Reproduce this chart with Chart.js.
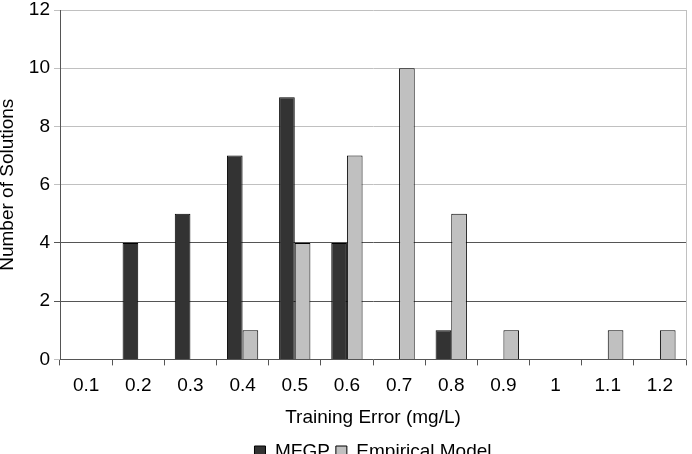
<!DOCTYPE html>
<html>
<head>
<meta charset="utf-8">
<script src="https://cdn.jsdelivr.net/npm/chart.js@4"></script>
<style>
  html, body { margin: 0; padding: 0; background: #fff; overflow: hidden; }
  #wrap { width: 692px; height: 471px; position: relative; }
</style>
</head>
<body>
<div id="wrap"><canvas id="chart"></canvas></div>
<script>
  // 데이터
  const categories = ['0.1', '0.2', '0.3', '0.4', '0.5', '0.6', '0.7', '0.8', '0.9', '1', '1.1', '1.2'];
  const mfgp = [0, 4, 5, 7, 9, 4, 0, 1, 0, 0, 0, 0];
  const empirical = [0, 0, 0, 1, 4, 7, 10, 5, 1, 0, 1, 1];

  const FONT = 'Liberation Sans, Arial, sans-serif';
  const FS = 19;

  new Chart(document.getElementById('chart'), {
    type: 'bar',
    data: {
      labels: categories,
      datasets: [
        {
          label: 'MFGP',
          data: mfgp,
          backgroundColor: '#333333',
          borderColor: '#000000',
          borderWidth: 1,
        },
        {
          label: 'Empirical Model',
          data: empirical,
          backgroundColor: '#c0c0c0',
          borderColor: '#000000',
          borderWidth: 1,
        },
      ],
    },
    options: {
      responsive: true,
      maintainAspectRatio: false,
      animation: false,
      categoryPercentage: 0.6,
      barPercentage: 1.0,
      layout: { padding: { top: 10, right: 6, left: 0, bottom: 0 } },
      plugins: {
        legend: {
          position: 'bottom',
          fullSize: false,
          labels: {
            font: { family: FONT, size: FS },
            color: '#000',
            boxWidth: 11,
            boxHeight: 11,
            padding: 6,
          },
        },
        tooltip: { enabled: false },
      },
      scales: {
        x: {
          grid: {
            offset: true,
            drawOnChartArea: false,
            tickLength: 6,
            color: '#555',
          },
          border: { color: '#555', width: 1 },
          ticks: { font: { family: FONT, size: FS }, color: '#000', padding: 9 },
          title: {
            display: true,
            text: 'Training Error (mg/L)',
            font: { family: FONT, size: FS },
            color: '#000',
            padding: { top: 0, bottom: 7 },
          },
        },
        y: {
          min: 0,
          max: 12,
          afterFit: (s) => { s.width = 60; s.paddingTop = 0; },
          ticks: { stepSize: 2, font: { family: FONT, size: FS }, color: '#000', padding: 4 },
          grid: {
            tickLength: 6,
            color: (c) => (c.tick && (c.tick.value === 2 || c.tick.value === 4) ? '#555' : '#c0c0c0'),
          },
          border: { color: '#555', width: 1 },
          title: {
            display: true,
            text: 'Number of Solutions',
            font: { family: FONT, size: FS, lineHeight: 1 },
            color: '#000',
            padding: { top: -2, bottom: 0 },
          },
        },
        y2: {
          position: 'right',
          min: 0,
          max: 12,
          ticks: { display: false },
          grid: { drawOnChartArea: false, tickLength: 0 },
          border: { color: '#c0c0c0', width: 1 },
        },
      },
    },
  });
</script>
</body>
</html>
